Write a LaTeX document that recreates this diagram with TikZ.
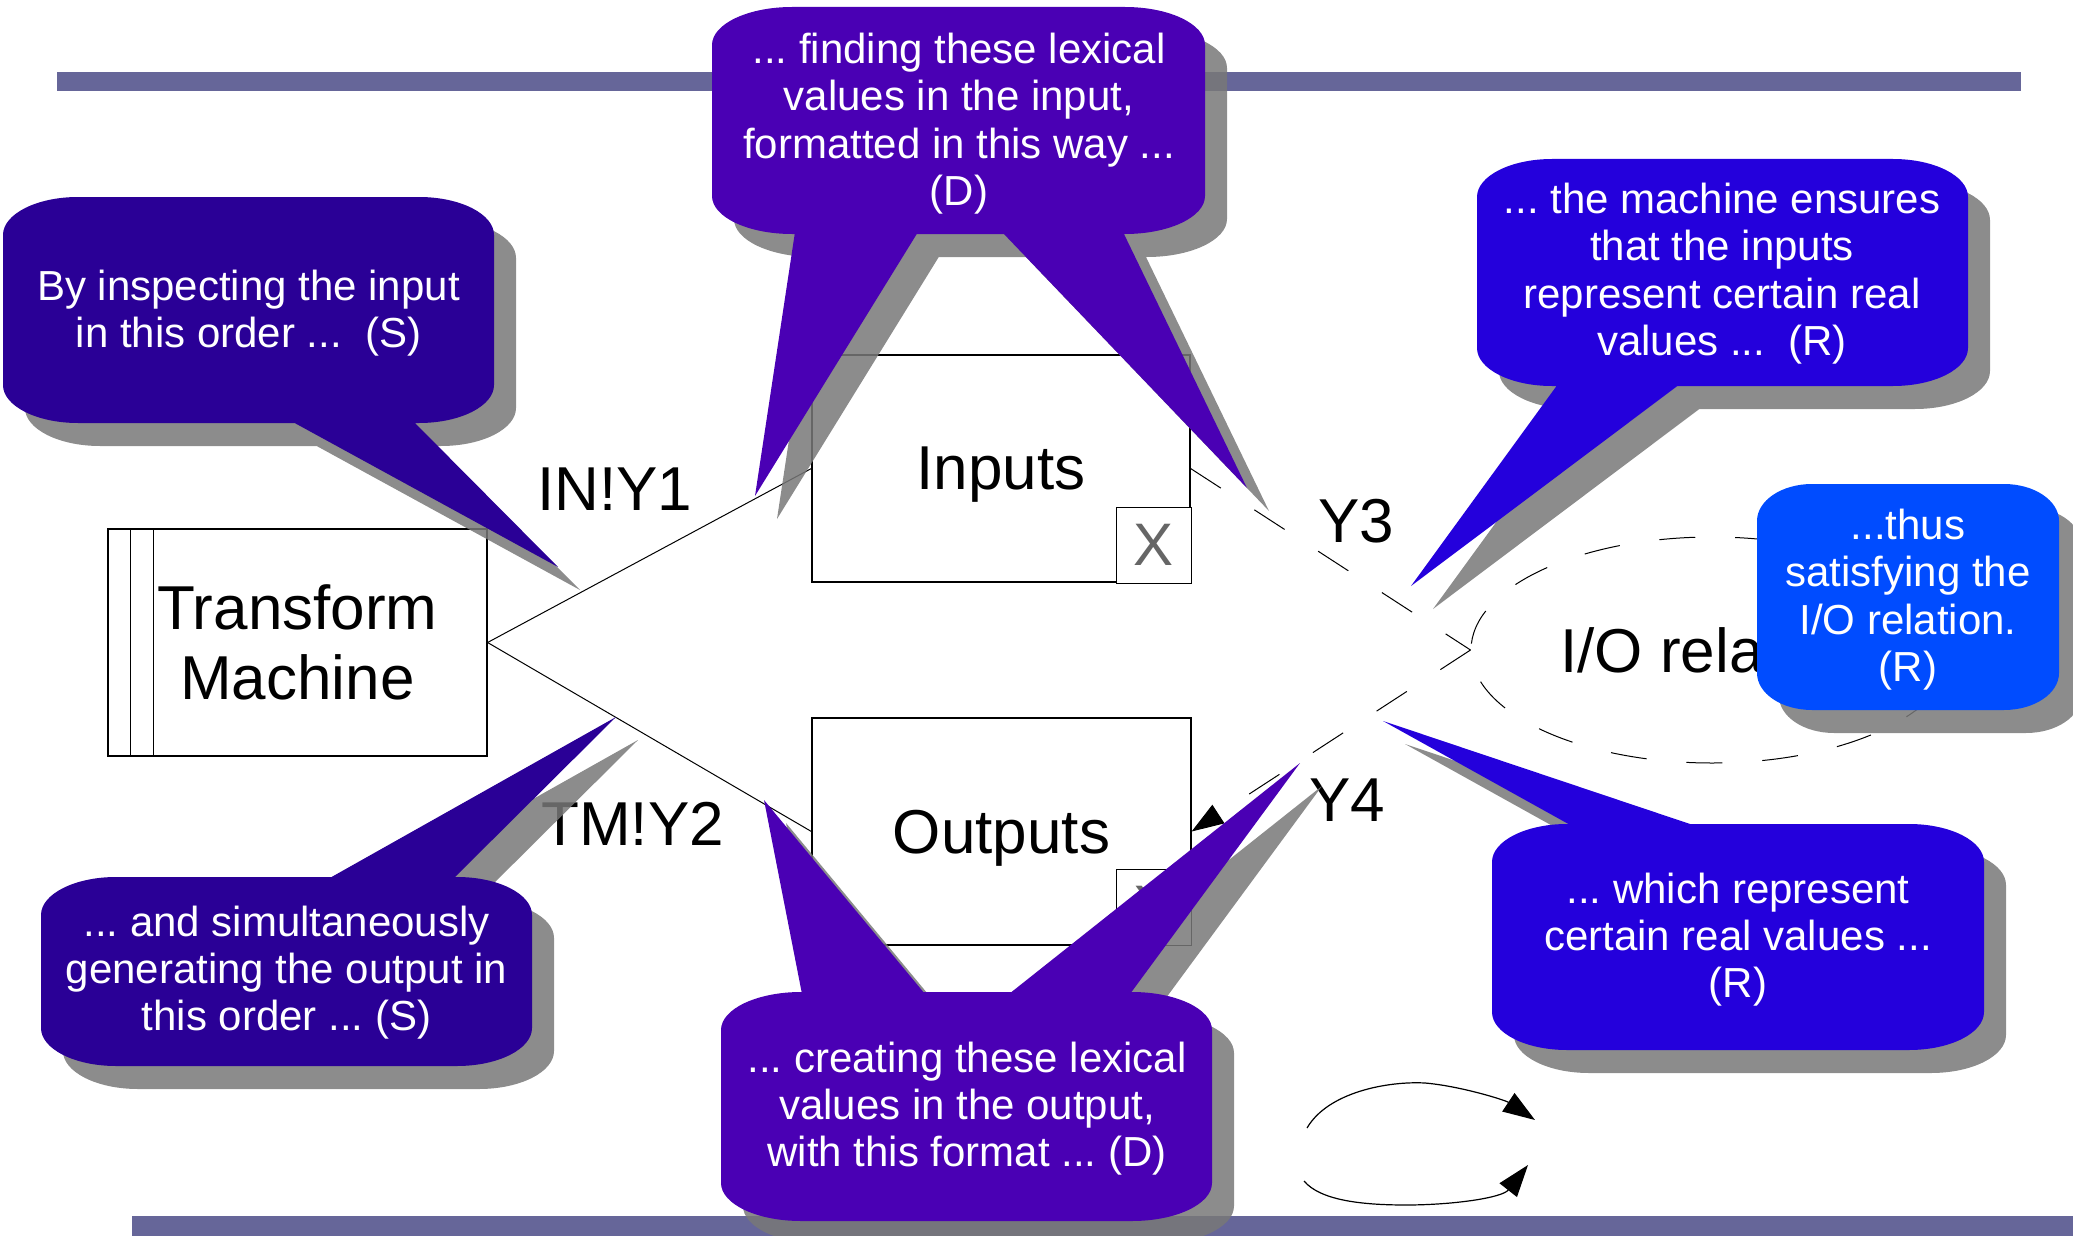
\documentclass[tikz,border=0pt]{standalone}
\usepackage{fontspec}
\setmainfont{Liberation Sans}
\usetikzlibrary{arrows.meta,shapes.geometric}
\definecolor{barc}{HTML}{666699}
\definecolor{cA}{HTML}{2A0096}
\definecolor{cB}{HTML}{4A00B4}
\definecolor{cC}{HTML}{2400DC}
\definecolor{cD}{HTML}{004CFF}
\definecolor{shd}{HTML}{787878}
\definecolor{xgray}{HTML}{666666}
\frenchspacing
% callout shape: x1 y1 x2 y2 rx ry extra-subpaths style
\newcommand{\callout}[8]{%
 \fill[#8] ({#1+#5},#2) -- ({#3-#5},#2)
   arc[start angle=90,end angle=0,x radius=#5*0.5pt,y radius=#6*0.5pt]
   -- (#3,{#4-#6})
   arc[start angle=0,end angle=-90,x radius=#5*0.5pt,y radius=#6*0.5pt]
   -- ({#1+#5},#4)
   arc[start angle=-90,end angle=-180,x radius=#5*0.5pt,y radius=#6*0.5pt]
   -- (#1,{#2+#6})
   arc[start angle=180,end angle=90,x radius=#5*0.5pt,y radius=#6*0.5pt]
   -- cycle #7;}
\tikzset{
  box/.style={draw=black, line width=0.6pt, fill=white, inner sep=0pt, text depth=0pt,
    font=\fontsize{31pt}{35pt}\selectfont},
  xbox/.style={draw=black, line width=0.5pt, fill=white, inner sep=0pt, text=xgray,
    minimum width=37.5pt, minimum height=38pt, text depth=0pt, font=\fontsize{30pt}{34pt}\selectfont},
  big/.style={inner sep=0pt, font=\fontsize{31pt}{35pt}\selectfont},
  conn/.style={draw=black, line width=0.5pt},
  dconn/.style={draw=black, line width=0.5pt, dash pattern=on 18pt off 20pt},
  ctext/.style={text=white, inner sep=0pt, anchor=base, font=\fontsize{21pt}{23.7pt}\selectfont\frenchspacing},
  shadowst/.style={fill=shd, fill opacity=0.85, shift={(22,23)}},
  tip/.style={-{Triangle[length=16pt,width=11pt]}}
}
\begin{document}
\begin{tikzpicture}[x=0.5pt,y=-0.5pt]
\useasboundingbox (0,0) rectangle (2073,1236);
% bars
\fill[barc] (57,72) rectangle (2021,91);
\fill[barc] (132,1216) rectangle (2073,1236);
% boxes
\node[box, minimum width=189.5pt, minimum height=113.5pt, align=center] (tm) at (297.5,642.5) {Transform\\Machine};
\draw[line width=0.5pt] ([xshift=11.5pt]tm.north west) -- ([xshift=11.5pt]tm.south west);
\draw[line width=0.5pt] ([xshift=23pt]tm.north west) -- ([xshift=23pt]tm.south west);
\node[box, minimum width=189pt, minimum height=113.5pt] (in) at (1001,468.5) {Inputs};
\node[box, minimum width=189.5pt, minimum height=113.5pt] (out) at (1001.5,831.5) {Outputs};
\node[xbox] (inx) at (1153.5,545) {X};
\node[xbox] (outx) at (1153.5,907) {X};
\node[ellipse, draw=black, line width=0.5pt, dash pattern=on 18pt off 20pt, minimum width=241pt, minimum height=113pt,
  inner sep=0pt, text depth=0pt, font=\fontsize{31pt}{35pt}\selectfont] (io) at (1712,650) {I/O relation};
% connectors
\draw[conn] (tm.east) -- (in.west);
\draw[conn] (tm.east) -- (out.west);
\draw[dconn] (in.east) -- (io.west);
\draw[dconn, tip] (io.west) -- (out.east);
% labels
\node[big, anchor=base west] (y1) at (537,510) {IN!Y1};
\node[big, anchor=base west] (y2) at (541,845) {TM!Y2};
\node[big, anchor=base west] (y3) at (1318,542) {Y3};
\node[big, anchor=base west] (y4) at (1309,821) {Y4};
% loop arrows
\coordinate (la) at (1307,1128);
\coordinate (lb) at (1535,1120);
\coordinate (lc) at (1304,1181);
\coordinate (ld) at (1528,1165);
\draw[conn, line width=0.6pt, tip] (la) .. controls (1328,1092) and (1388,1081) .. (1425,1083) .. controls (1460,1086) and (1505,1100) .. (lb);
\draw[conn, line width=0.6pt, tip] (lc) .. controls (1320,1200) and (1360,1205) .. (1406,1205) .. controls (1452,1205) and (1502,1198) .. (ld);
% shadows
\callout{3}{197}{494}{423}{75}{38}{(291,421) -- (413,421) -- (558,567) -- cycle}{shadowst}
\callout{712}{7}{1205}{234}{80}{38}{(795,232) -- (918,232) -- (755,496) -- cycle (1002,232) -- (1123,232) -- (1247,488) -- cycle}{shadowst}
\callout{1477}{159}{1968}{386}{75}{38}{(1558,384) -- (1680,384) -- (1411,586) -- cycle}{shadowst}
\callout{1757}{484}{2059}{710}{55}{37}{}{shadowst}
\callout{41}{877}{532}{1066}{75}{38}{(453,879) -- (328,879) -- (616,717) -- cycle}{shadowst}
\callout{721}{992}{1212}{1221}{80}{38}{(925,994) -- (802,994) -- (764,800) -- cycle (1130,994) -- (1009,994) -- (1300,763) -- cycle}{shadowst}
\callout{1492}{824}{1984}{1050}{75}{38}{(1696,826) -- (1572,826) -- (1383,721) -- cycle}{shadowst}
% bodies
\callout{3}{197}{494}{423}{75}{38}{(291,421) -- (413,421) -- (558,567) -- cycle}{cA}
\callout{712}{7}{1205}{234}{80}{38}{(795,232) -- (918,232) -- (755,496) -- cycle (1002,232) -- (1123,232) -- (1247,488) -- cycle}{cB}
\callout{1477}{159}{1968}{386}{75}{38}{(1558,384) -- (1680,384) -- (1411,586) -- cycle}{cC}
\callout{1757}{484}{2059}{710}{55}{37}{}{cD}
\callout{41}{877}{532}{1066}{75}{38}{(453,879) -- (328,879) -- (616,717) -- cycle}{cA}
\callout{721}{992}{1212}{1221}{80}{38}{(925,994) -- (802,994) -- (764,800) -- cycle (1130,994) -- (1009,994) -- (1300,763) -- cycle}{cB}
\callout{1492}{824}{1984}{1050}{75}{38}{(1696,826) -- (1572,826) -- (1383,721) -- cycle}{cC}
% callout texts
\node[ctext] (tA) at (248.5,300) {\begin{tabular}[t]{@{}c@{}}By inspecting the input\\in this order ...\ \ (S)\end{tabular}};
\node[ctext] (tB) at (959,63.6) {\begin{tabular}[t]{@{}c@{}}... finding these lexical\\values in the input,\\formatted in this way ...\\(D)\end{tabular}};
\node[ctext] (tC) at (1722,213.5) {\begin{tabular}[t]{@{}c@{}}... the machine ensures\\that the inputs\\represent certain real\\values ...\ \ (R)\end{tabular}};
\node[ctext] (tD) at (1908,539.5) {\begin{tabular}[t]{@{}c@{}}...thus\\satisfying the\\I/O relation.\\(R)\end{tabular}};
\node[ctext] (tE) at (286.5,936) {\begin{tabular}[t]{@{}c@{}}... and simultaneously\\generating the output in\\this order ... (S)\end{tabular}};
\node[ctext] (tF) at (967,1072) {\begin{tabular}[t]{@{}c@{}}... creating these lexical\\values in the output,\\with this format ... (D)\end{tabular}};
\node[ctext] (tG) at (1738,903) {\begin{tabular}[t]{@{}c@{}}... which represent\\certain real values ...\\(R)\end{tabular}};
\end{tikzpicture}
\end{document}
